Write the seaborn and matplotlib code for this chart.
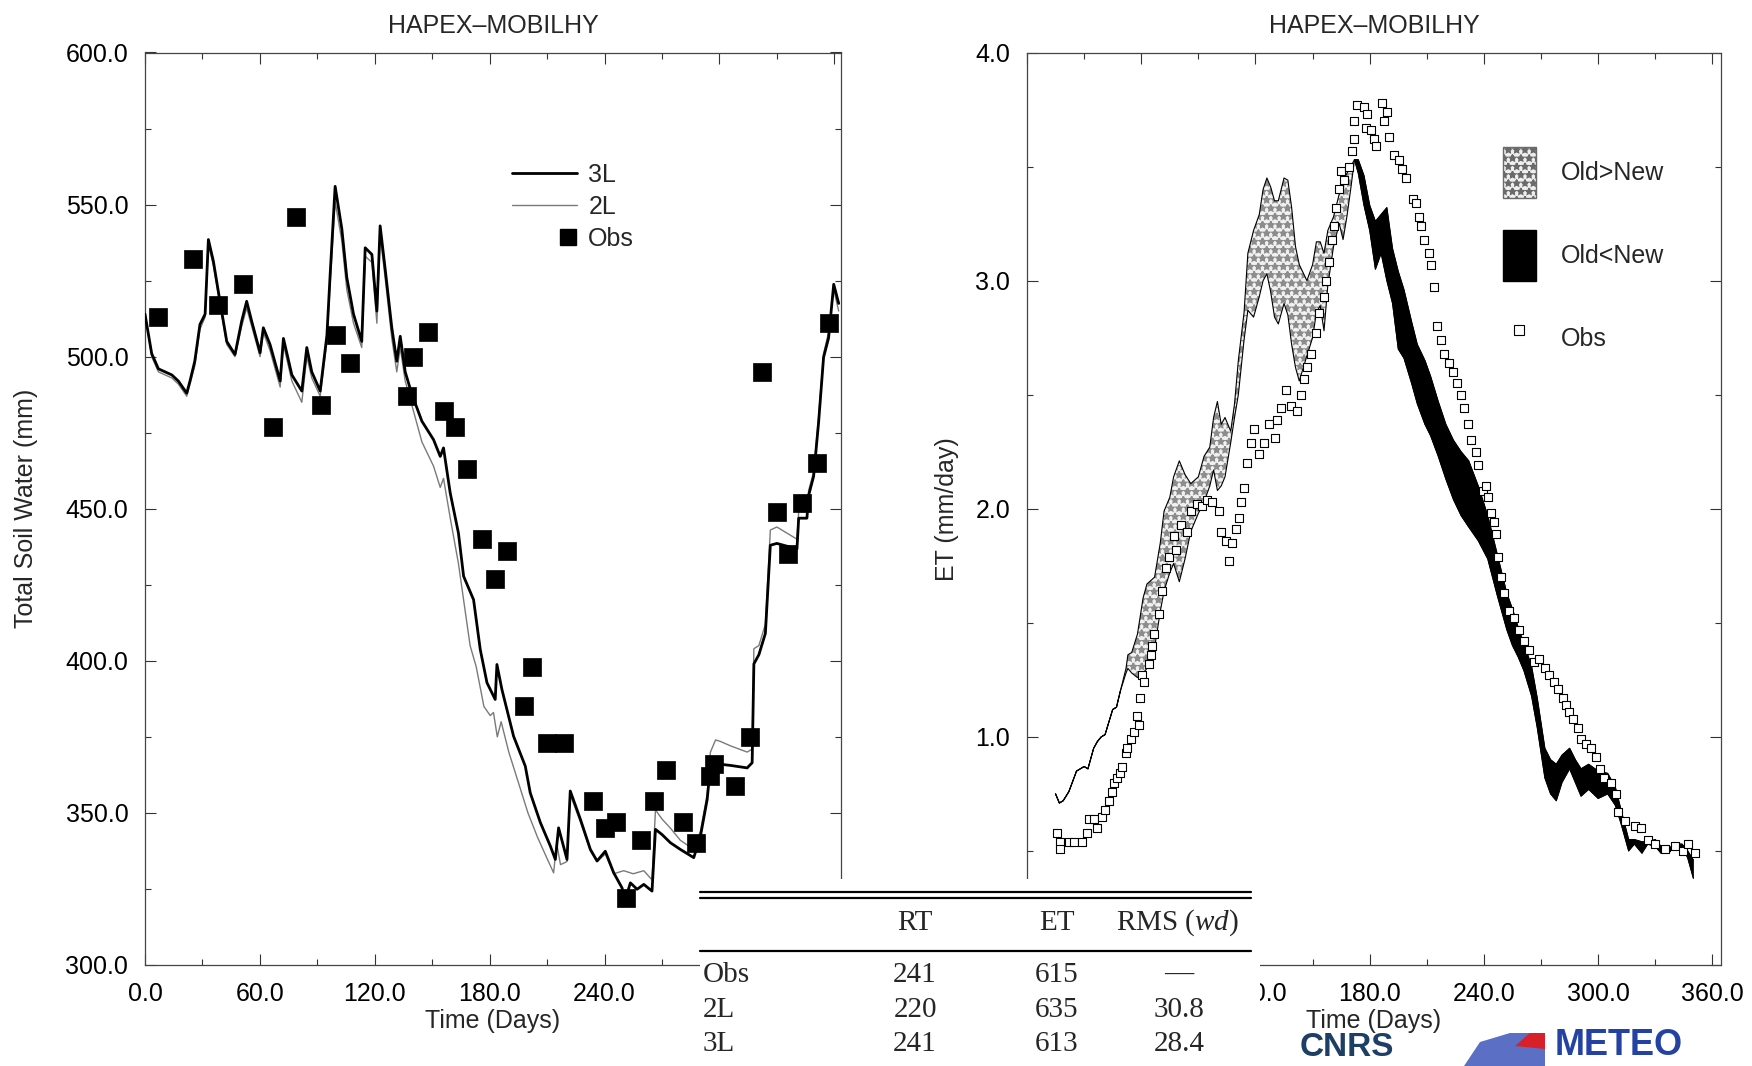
import matplotlib
matplotlib.use("Agg")
import numpy as np
import pandas as pd
import matplotlib.pyplot as plt
import seaborn as sns
from matplotlib.ticker import MultipleLocator, FuncFormatter
from matplotlib.patches import Rectangle, Patch, Polygon
from matplotlib.lines import Line2D
from matplotlib.legend_handler import HandlerLine2D

# ---------------- data: left panel (total soil water, mm) ----------------
sw_days_3l = [0, 3.5, 7, 14, 17.4, 21.8, 23.5, 26, 28.7, 31.4, 33.1, 35.7, 39.2, 42.7, 47, 50.5,
              53.1, 55.7, 60.1, 61.8, 65.3, 70.6, 72.3, 76.7, 81.9, 84.5, 87.1, 91.5, 95, 96.7,
              99.3, 102.8, 105.4, 108.9, 113.2, 115, 118.5, 121.1, 122.8, 125.4, 128.9, 131.5,
              133.3, 135.9, 139.4, 144.6, 150.7, 154.2, 155.9, 159.4, 163.7, 166.4, 171.6, 175.1,
              178.6, 182.9, 183.8, 186.4, 192.5, 198.6, 201.2, 206.5, 211.7, 214.3, 216, 220.4,
              222.1, 227.4, 232.6, 236.1, 240.4, 244.8, 249.1, 250.9, 253.5, 257, 260.5, 264.8,
              266.6, 270, 274.4, 279.6, 286.6, 290.1, 293.6, 295.3, 297, 300.5, 306, 314.5, 317.1,
              318, 320.6, 324, 326.6, 330, 340.5, 341.4, 345.7, 346.6, 349.2, 351.8, 354.4, 357,
              359.7, 362.3]
sw_3l = [514, 501, 496, 494, 492, 488, 492, 498.5, 510.6, 514, 538.5, 531.4, 518, 505, 500.7, 511.7,
         518.2, 511.7, 501.3, 509.5, 504, 492, 506, 494, 488.7, 503, 495, 488.7, 507, 527,
         556, 542, 526, 514, 505, 535.8, 533.6, 515, 543, 529, 509.5, 498.5,
         506.7, 495, 487.6, 478.8, 472.7, 467.2, 470, 455.2, 442, 427.8, 420.1, 403.7,
         392.8, 387.3, 398.8, 390.6, 375.2, 365.4, 356.6, 346.8, 339.1, 334.7, 345.1, 334.7,
         357.2, 347.9, 338, 334.2, 337.4, 330.3, 325.4, 321.6, 327, 324.9, 326.5, 324.3,
         344.6, 342.9, 340.2, 338, 335.3, 342.4, 354.4, 365.4, 366, 366, 365.6, 364.8, 366.5,
         399, 402, 409, 438, 438.6, 436.8, 446.9, 446.9, 454.4, 460.7, 478.4, 499.8, 506.1,
         523.8, 517.5]

sw_days_2l = [0, 3.5, 7, 14, 17.4, 21.8, 23.5, 26, 28.7, 31.4, 33.1, 35.7, 39.2, 42.7, 47, 50.5,
              53.1, 55.7, 60.1, 61.8, 65.3, 70.6, 72.3, 76.7, 81.9, 84.5, 87.1, 91.5, 95, 96.7,
              99.3, 102.8, 105.4, 108.9, 113.2, 115, 118.5, 121.1, 122.8, 125.4, 128.9, 131.5,
              133.3, 135.9, 139.4, 144.6, 150.7, 154.2, 155.9, 159.4, 163.7, 166.4, 169.8, 173,
              177, 180.3, 182, 184, 186, 190, 195, 200, 205, 210, 213.4, 215, 217, 220.4,
              222.1, 227.4, 232.6, 236.1, 240.4, 244.8, 250, 255, 260.5, 264.8,
              266.6, 270, 274.4, 279.6, 286.6, 290.1, 293.6, 295.3, 298, 300.5, 306, 314.5, 317.1,
              318, 320.6, 324, 326.6, 330, 340.5, 341.4, 345.7, 346.6, 349.2, 351.8, 354.4, 357,
              359.7, 362.3]
sw_2l = [514, 500, 495, 493, 491, 487, 491, 497, 509, 513, 537, 530, 517, 504, 500, 510,
         516, 510, 500, 508, 502, 490, 504, 492, 485, 500, 493, 487, 505, 524,
         551, 538, 522, 511, 503, 533, 531, 511, 540, 526, 506, 495,
         503, 492, 484, 472, 464, 457, 460, 447, 432, 420, 405, 398,
         385, 382, 383, 375, 380, 370, 360, 350, 342, 335, 330.3, 340, 333, 334,
         356, 347, 337.5, 334, 336.5, 330, 331, 330, 331, 328,
         351, 348, 345, 341, 338, 344, 356, 370, 374, 373.5, 372, 370, 371,
         404, 405, 412, 443, 444, 440, 449, 449, 456, 462, 480, 501, 508,
         522, 515]

obs_sw_days = [7, 25, 38, 51, 67, 79, 92, 100, 107, 137, 140, 148, 156, 162, 168, 176, 183, 189,
               198, 202, 210, 219, 234, 240, 246, 251, 259, 266, 272, 281, 288, 295, 297, 308,
               316, 322, 330, 336, 343, 351, 357]
obs_sw = [513, 532, 517, 524, 477, 546, 484, 507, 498, 487, 500, 508, 482, 477, 463, 440, 427, 436,
          385, 398, 373, 373, 354, 345, 347, 322, 341, 354, 364, 347, 340, 362, 366, 359,
          375, 495, 449, 435, 452, 465, 511]

# ---------------- data: right panel (ET, mm/day) ----------------
et_days = [15, 17, 19, 22, 26, 30, 32, 35, 37, 39, 41, 45, 47, 49, 52, 53, 55, 58, 61, 63, 67, 70,
           72, 75, 77, 80, 83, 86, 90, 93, 96, 98, 100, 102, 104, 107, 109, 111, 114, 116, 119,
           122, 124, 126, 128, 130, 132, 135, 137, 139, 141, 143, 147, 150, 152, 154, 156, 158,
           161, 164, 166, 168, 170, 172, 174, 177, 180, 183, 186, 189, 192, 195, 198, 202, 205,
           209, 212, 216, 220, 224, 228, 232, 237, 242, 247, 252, 255, 258, 261, 265, 268, 272,
           275, 278, 281, 285, 288, 291, 295, 300, 305, 309, 312, 316, 319, 323, 326, 330, 333,
           337, 340, 344, 347, 350]
et_old = [0.75, 0.71, 0.72, 0.76, 0.85, 0.87, 0.86, 0.95, 0.98, 1.00, 1.01, 1.12, 1.13, 1.20, 1.30,
          1.36, 1.37, 1.45, 1.61, 1.67, 1.70, 1.85, 1.99, 2.05, 2.14, 2.21, 2.15, 2.11, 2.14, 2.23,
          2.27, 2.40, 2.47, 2.37, 2.40, 2.34, 2.46, 2.65, 2.86, 3.12, 3.22, 3.29, 3.40, 3.45, 3.41,
          3.35, 3.35, 3.45, 3.44, 3.32, 3.15, 3.07, 3.00, 3.07, 3.17, 3.17, 3.12, 3.22, 3.28, 3.38,
          3.44, 3.47, 3.50, 3.53, 3.47, 3.33, 3.22, 3.05, 3.12, 3.00, 2.90, 2.70, 2.66, 2.55, 2.46,
          2.37, 2.32, 2.23, 2.13, 2.04, 1.97, 1.92, 1.86, 1.78, 1.62, 1.47, 1.40, 1.35, 1.29, 1.18,
          1.04, 0.82, 0.75, 0.72, 0.80, 0.86, 0.80, 0.74, 0.77, 0.73, 0.75, 0.70, 0.62, 0.50, 0.53,
          0.49, 0.53, 0.52, 0.49, 0.49, 0.52, 0.52, 0.47, 0.38]
et_new = [0.75, 0.71, 0.72, 0.76, 0.85, 0.87, 0.86, 0.95, 0.98, 1.00, 1.01, 1.12, 1.13, 1.20, 1.28,
          1.30, 1.28, 1.26, 1.28, 1.30, 1.39, 1.55, 1.64, 1.72, 1.76, 1.68, 1.78, 1.90, 1.98, 2.03,
          2.10, 2.17, 2.08, 2.10, 2.14, 2.29, 2.40, 2.50, 2.74, 2.87, 2.84, 2.93, 3.00, 3.03, 2.95,
          2.84, 2.81, 2.90, 2.85, 2.72, 2.62, 2.56, 2.67, 2.75, 2.86, 2.89, 2.78, 2.98, 3.15, 3.25,
          3.18, 3.28, 3.40, 3.53, 3.53, 3.46, 3.33, 3.26, 3.29, 3.32, 3.14, 3.04, 2.96, 2.82, 2.72,
          2.65, 2.58, 2.47, 2.37, 2.30, 2.25, 2.21, 2.10, 1.97, 1.80, 1.63, 1.56, 1.48, 1.41, 1.31,
          1.17, 0.95, 0.90, 0.88, 0.92, 0.95, 0.90, 0.86, 0.88, 0.85, 0.84, 0.78, 0.68, 0.55, 0.55,
          0.54, 0.54, 0.55, 0.52, 0.51, 0.53, 0.53, 0.50, 0.46]

obs_et_days = [15.8, 17.5, 17.5, 21.9, 24.6, 28.9, 31.6, 32.5, 35.1, 36.8, 39.5, 41.2, 43, 44.7, 45.6,
               47.4, 49.1, 50, 51.8, 52.6, 54.4, 56.1, 57.9, 58.8, 59.6, 60.5, 61.4, 64, 64.9, 65.8,
               66.7, 69.3, 71.1, 72.8, 74.6, 77.2, 78, 80.7, 84, 86, 89.5, 92.1, 94.7, 97.4, 100.9,
               101.8, 104.4, 106.1, 107.9, 109.6, 111.4, 112.3, 113.9, 115.6, 117.4, 119.1, 121.8,
               124.4, 127, 130.5, 131.4, 133.2, 135.8, 138.4, 142, 143.7, 145.4, 147.2, 149, 151.6,
               153.3, 156, 156.8, 158.6, 160.3, 161.2, 162.1, 163.9, 164.7, 166.5, 169.1, 170.9,
               171.5, 171.8, 173.5, 177, 177.9, 178.8, 180.5, 182.3, 183.2, 186.7, 187.5, 189.3,
               190.2, 192.8, 195.4, 197.2, 198.9, 202.5, 204.2, 206, 206.9, 208.6, 211.2, 212.1,
               213.9, 215.6, 217.4, 219.1, 221.8, 223.5, 226.1, 227.9, 229.7, 231.4, 233.2, 235.8,
               236.7, 239.3, 241.1, 241.9, 243.7, 245.4, 246.3, 247.2, 249, 250.7, 253.3, 256,
               258.6, 261.2, 263.9, 266.5, 269.1, 271.8, 274.4, 277, 278.8, 281.4, 283.2, 284.9,
               286.7, 289.3, 291.1, 293.7, 296.3, 299, 300.7, 303.3, 306.9, 309.5, 310.4, 313.9,
               319.1, 322.6, 326.2, 329.7, 335, 340.2, 344.6, 347.2, 350.7]
obs_et = [0.58, 0.54, 0.51, 0.54, 0.54, 0.54, 0.58, 0.64, 0.64, 0.60, 0.65, 0.68, 0.72, 0.76, 0.80,
          0.82, 0.84, 0.87, 0.93, 0.95, 0.99, 1.02, 1.09, 1.05, 1.17, 1.27, 1.24, 1.32, 1.36, 1.40,
          1.45, 1.54, 1.64, 1.74, 1.79, 1.88, 1.82, 1.93, 1.90, 1.99, 2.02, 2.01, 2.04, 2.03, 1.99,
          1.90, 1.86, 1.77, 1.85, 1.91, 1.96, 2.03, 2.09, 2.20, 2.29, 2.35, 2.24,
          2.29, 2.37, 2.31, 2.39, 2.44, 2.52, 2.45, 2.43, 2.50, 2.57, 2.62, 2.68, 2.77,
          2.86, 2.93, 3.00, 3.08, 3.18, 3.24, 3.32, 3.40, 3.48, 3.44, 3.50, 3.57,
          3.62, 3.70, 3.77, 3.76, 3.67, 3.73, 3.66, 3.62, 3.59, 3.78, 3.70, 3.74,
          3.63, 3.55, 3.53, 3.49, 3.45, 3.36, 3.34, 3.28, 3.24, 3.18, 3.12, 3.07,
          2.97, 2.80, 2.74, 2.68, 2.64, 2.60, 2.55, 2.50, 2.44, 2.37, 2.30, 2.25,
          2.19, 2.08, 2.10, 2.05, 1.98, 1.94, 1.89, 1.79, 1.70, 1.63, 1.55, 1.52,
          1.47, 1.42, 1.38, 1.33, 1.34, 1.30, 1.27, 1.24, 1.21, 1.17, 1.14, 1.11,
          1.08, 1.04, 0.99, 0.97, 0.95, 0.91, 0.86, 0.82, 0.80, 0.75, 0.67, 0.63,
          0.61, 0.60, 0.55, 0.53, 0.51, 0.52, 0.50, 0.53, 0.49]

# ---------------- table ----------------
table_cols = ["", "RT", "ET", "RMS ($\\mathit{wd}$)"]
table_rows = ["Obs", "2L", "3L"]
table_rt = ["241", "220", "241"]
table_et = ["615", "635", "613"]
table_rms = ["\u2014", "30.8", "28.4"]

title_text = "HAPEX\u2013MOBILHY"

# ---------------- style ----------------
sns.set_theme(style="ticks")
plt.rcParams['font.family'] = ['Liberation Sans', 'DejaVu Sans']
plt.rcParams['hatch.linewidth'] = 1.3
plt.rcParams['mathtext.fontset'] = 'custom'
plt.rcParams['mathtext.rm'] = 'Liberation Serif'
plt.rcParams['mathtext.it'] = 'Liberation Serif:italic'
FS = 18

W, H = 1752, 1066
fig = plt.figure(figsize=(W / 100, H / 100), dpi=100)
fig.patch.set_facecolor('white')


def fx(px):
    return px / W


def fy(py):
    return 1 - py / H


class RightMarkerHandler(HandlerLine2D):
    """Legend handler placing a lone marker at the right end of the handle box."""
    def create_artists(self, legend, orig_handle, xdescent, ydescent, width, height,
                       fontsize, trans):
        arts = super().create_artists(legend, orig_handle, xdescent, ydescent, width,
                                      height, fontsize, trans)
        for a in arts:
            if a.get_marker() not in (None, "None", "", " "):
                a.set_xdata([width - xdescent - 0.35 * fontsize])
        return arts


ax1 = fig.add_axes([fx(145), fy(965), fx(841) - fx(145), fy(52.5) - fy(965)])
ax2 = fig.add_axes([fx(1027), fy(965), fx(1721) - fx(1027), fy(52.5) - fy(965)])

# left panel
df3 = pd.DataFrame({"day": sw_days_3l, "sw": sw_3l})
df2 = pd.DataFrame({"day": sw_days_2l, "sw": sw_2l})
sns.lineplot(data=df2, x="day", y="sw", ax=ax1, color="#7a7a7a", lw=1.0,
             estimator=None, sort=False, legend=False, zorder=2)
sns.lineplot(data=df3, x="day", y="sw", ax=ax1, color="black", lw=2.0,
             estimator=None, sort=False, legend=False, zorder=3)
sns.scatterplot(x=obs_sw_days, y=obs_sw, ax=ax1, marker="s", s=160, color="black",
                edgecolor="black", linewidth=0.5, zorder=4, legend=False)

ax1.set_xlim(0, 363.5)
ax1.set_ylim(300, 600)
ax1.xaxis.set_major_locator(MultipleLocator(60))
ax1.xaxis.set_minor_locator(MultipleLocator(30))
ax1.yaxis.set_major_locator(MultipleLocator(50))
ax1.yaxis.set_minor_locator(MultipleLocator(25))
ax1.set_ylabel("Total Soil Water (mm)", fontsize=FS)
ax1.yaxis.set_label_coords(-0.154, 0.5)
# x labels at 300 and 360 are hidden under the table block
ax1.xaxis.set_major_formatter(FuncFormatter(lambda v, p: "" if v > 270 else f"{v:.1f}"))

obs_handle = Line2D([], [], color="black", marker="s", ls="none", ms=12)
leg1_handles = [Line2D([], [], color="black", lw=2.0),
                Line2D([], [], color="#7a7a7a", lw=1.0),
                obs_handle]
ax1.legend(leg1_handles, ["3L", "2L", "Obs"], loc="upper left",
           bbox_to_anchor=(fx(512), fy(163)), bbox_transform=fig.transFigure,
           frameon=False, fontsize=FS, handlelength=2.6, handletextpad=0.45,
           labelspacing=0.32, borderpad=0, borderaxespad=0, numpoints=1,
           handler_map={obs_handle: RightMarkerHandler(numpoints=1)})

# right panel
d = np.array(et_days, dtype=float)
o = np.array(et_old)
n = np.array(et_new)
ax2.fill_between(d, o, n, where=o >= n, interpolate=True, facecolor="#f0f0f0",
                 edgecolor="#8c8c8c", hatch="**", lw=0, zorder=1)
ax2.fill_between(d, o, n, where=o <= n, interpolate=True, facecolor="black",
                 edgecolor="black", lw=0.6, zorder=1)
dfo = pd.DataFrame({"day": et_days, "et": et_old})
dfn = pd.DataFrame({"day": et_days, "et": et_new})
sns.lineplot(data=dfo, x="day", y="et", ax=ax2, color="black", lw=0.8,
             estimator=None, sort=False, legend=False, zorder=2)
sns.lineplot(data=dfn, x="day", y="et", ax=ax2, color="black", lw=0.8,
             estimator=None, sort=False, legend=False, zorder=2)
sns.scatterplot(x=obs_et_days, y=obs_et, ax=ax2, marker="s", s=30, facecolor="white",
                edgecolor="black", linewidth=0.8, zorder=3, legend=False)

ax2.set_xlim(0, 364.5)
ax2.set_ylim(0, 4.0)
ax2.xaxis.set_major_locator(MultipleLocator(60))
ax2.xaxis.set_minor_locator(MultipleLocator(30))
ax2.yaxis.set_major_locator(MultipleLocator(1.0))
ax2.yaxis.set_minor_locator(MultipleLocator(0.5))
ax2.set_ylabel("ET (mm/day)", fontsize=FS)
ax2.yaxis.set_label_coords(-0.098, 0.5)
# labels under the table block are hidden
ax2.xaxis.set_major_formatter(FuncFormatter(lambda v, p: "" if v < 90 else f"{v:.1f}"))
ax2.yaxis.set_major_formatter(FuncFormatter(lambda v, p: "" if v < 0.5 else f"{v:.1f}"))

leg2_handles = [Patch(facecolor="#eeeeee", edgecolor="#6a6a6a", hatch="**", lw=1.0),
                Patch(facecolor="black", edgecolor="black"),
                Line2D([], [], marker="s", ls="none", mfc="white", mec="black", mew=0.8, ms=7)]
ax2.legend(leg2_handles, ["Old>New", "Old<New", "Obs"], loc="upper left",
           bbox_to_anchor=(fx(1503), fy(147)), bbox_transform=fig.transFigure,
           frameon=False, fontsize=FS, handlelength=1.3, handleheight=2.75,
           handletextpad=1.0, labelspacing=1.3, borderpad=0, borderaxespad=0)

ax1.yaxis.set_major_formatter(FuncFormatter(lambda v, p: f"{v:.1f}"))
for ax in (ax1, ax2):
    ax.set_title(title_text, fontsize=FS, pad=14)
    ax.set_xlabel("Time (Days)", fontsize=FS)
    ax.xaxis.set_label_coords(0.5, -0.048)
    ax.tick_params(which="both", direction="in", top=True, right=True,
                   labelsize=FS, width=0.8, colors="#333333", labelcolor="black")
    ax.tick_params(which="major", length=8, pad=12)
    ax.tick_params(which="minor", length=4)
    for s in ax.spines.values():
        s.set_linewidth(0.9)
        s.set_color("#444444")
        s.set_visible(True)
    ax.set_facecolor("white")

# ---------------- table overlay ----------------
fig.add_artist(Rectangle((fx(700), 0), fx(1260) - fx(700), fy(879), transform=fig.transFigure,
                         facecolor="white", edgecolor="none", zorder=10))
for yy in (891.6, 897.6, 951):
    fig.add_artist(Line2D([fx(700), fx(1251)], [fy(yy), fy(yy)], transform=fig.transFigure,
                          color="black", lw=1.6, zorder=11))
serif = ["Liberation Serif", "DejaVu Serif"]
TFS = 21
col_x = [703, 915, 1057, 1177]
for j in (1, 2, 3):
    fig.text(fx(col_x[j]), fy(923), table_cols[j], ha="center", va="center", fontsize=TFS,
             family=serif, zorder=12)
for i, yy in enumerate((975, 1010, 1044)):
    fig.text(fx(col_x[0]), fy(yy), table_rows[i], ha="left", va="center", fontsize=TFS,
             family=serif, zorder=12)
    fig.text(fx(col_x[1]), fy(yy), table_rt[i], ha="center", va="center", fontsize=TFS,
             family=serif, zorder=12)
    fig.text(fx(col_x[2]), fy(yy), table_et[i], ha="center", va="center", fontsize=TFS,
             family=serif, zorder=12)
    fig.text(fx(1179), fy(yy), table_rms[i], ha="center", va="center", fontsize=TFS,
             family=serif, zorder=12)

# ---------------- logo fragments (bottom right) ----------------
fig.text(fx(1300), fy(1063), "CNRS", ha="left", va="bottom", fontsize=24, fontweight="bold",
         color="#1d3f66", zorder=12)
fig.add_artist(Polygon([[fx(1464), fy(1066)], [fx(1480), fy(1042)], [fx(1510), fy(1033)],
                        [fx(1545), fy(1033)], [fx(1545), fy(1066)]], closed=True,
                       transform=fig.transFigure, facecolor="#5b6fc4", edgecolor="none", zorder=12))
fig.add_artist(Polygon([[fx(1515), fy(1046)], [fx(1530), fy(1033)], [fx(1545), fy(1033)],
                        [fx(1545), fy(1049)]], closed=True,
                       transform=fig.transFigure, facecolor="#d8202a", edgecolor="none", zorder=13))
fig.text(fx(1555), fy(1063), "METEO", ha="left", va="bottom", fontsize=26, fontweight="bold",
         color="#2342a3", zorder=12)

fig.savefig("out.png", dpi=100, facecolor="white")
